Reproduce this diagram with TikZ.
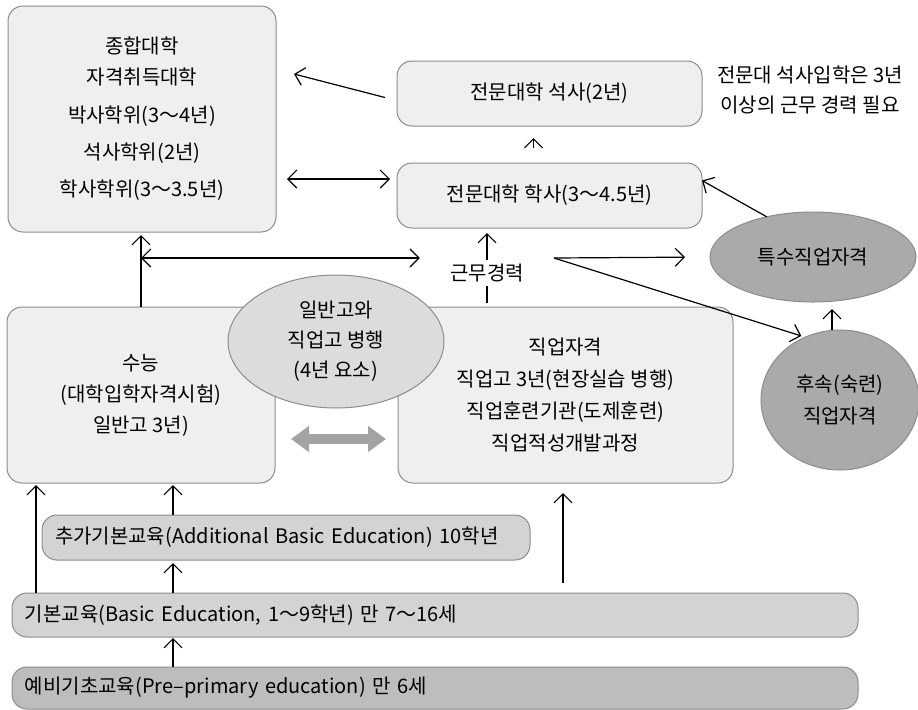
\documentclass[tikz,border=0pt]{standalone}
\usepackage{fontspec}
\setmainfont{Noto Sans CJK KR}
\usetikzlibrary{arrows.meta,shapes.geometric}
\definecolor{boxfill}{HTML}{EFEFEF}
\definecolor{boxline}{HTML}{8C8C8C}
\definecolor{ovalfill}{HTML}{DCDCDC}
\definecolor{barfill}{HTML}{D3D3D3}
\definecolor{basefill}{HTML}{BCBDBC}
\definecolor{qualfill}{HTML}{AAAAAA}
\definecolor{pathgray}{HTML}{A3A3A3}

\begin{document}
\begin{tikzpicture}[x=0.5pt,y=-0.5pt,
    every node/.style={font=\fontsize{10}{16}\selectfont},
    >={Straight Barb[length=4.5pt,width=9pt]},
    link/.style={line width=0.6pt},
    stage/.style={draw=boxline,fill=boxfill,line width=0.5pt,rounded corners=7.5pt,
      inner sep=0pt,outer sep=0pt,align=center},
    level/.style={draw=boxline,line width=0.5pt,rounded corners=7.5pt,
      inner xsep=6.5pt,inner ysep=0pt,outer sep=0pt,align=left},
    oval/.style={draw=boxline,ellipse,line width=0.5pt,inner sep=0pt,outer sep=0pt,align=center},
    wide/.style={{Triangle[length=9pt,width=12.5pt]}-{Triangle[length=9pt,width=12.5pt]},
      line width=5pt,draw=pathgray},
  ]
    \useasboundingbox (0,0) rectangle (918,709);

    \path
    (142,119) node[stage,minimum width=134pt,minimum height=113pt] (univ)
      {종합대학\\[-0.5pt]자격취득대학\\[3pt]박사학위(3～4년)\\[2.5pt]석사학위(2년)\\[2.5pt]학사학위(3～3.5년)}
    (549.5,93.5) node[stage,minimum width=152.5pt,minimum height=32.5pt] (profMaster) {전문대학 석사(2년)}
    (549.5,195.5) node[stage,minimum width=152.5pt,minimum height=32.5pt] (profBach) {전문대학 학사(3～4.5년)}
    (810,90) node[align=center,font=\fontsize{10}{15}\selectfont] (note)
      {전문대 석사입학은 3년\\이상의 근무 경력 필요}
    ;

    \path
    (141,395) node[stage,minimum width=134pt,minimum height=88pt,font=\fontsize{10}{15.5}\selectfont] (sat)
      {수능\\(대학입학자격시험)\\일반고 3년)}
    (565.5,395) node[stage,minimum width=167.5pt,minimum height=88pt] (voc)
      {직업자격\\직업고 3년(현장실습 병행)\\직업훈련기관(도제훈련)\\직업적성개발과정}
    (336,341.5) node[oval,fill=ovalfill,minimum width=108pt,minimum height=66.5pt,
      font=\fontsize{10}{15}\selectfont] (both) {일반고와\\직업고 병행\\(4년 요소)}
    (813,257) node[oval,fill=qualfill,minimum width=103pt,minimum height=45pt] (special) {특수직업자격}
    (840,400) node[oval,fill=qualfill,minimum width=79pt,minimum height=70pt] (skilled) {후속(숙련)\\직업자격}
    (487,273) node[inner sep=2pt] (work) {근무경력}
    ;

    \path
    (286,537.5) node[level,fill=barfill,text width=231pt,minimum height=22.5pt] (addBasic)
      {추가기본교육(Additional Basic Education) 10학년}
    (435,615) node[level,fill=barfill,text width=410pt,minimum height=22pt] (basic)
      {기본교육(Basic Education, 1～9학년) 만 7～16세}
    (435,688) node[level,fill=basefill,text width=410pt,minimum height=21pt] (prePrimary)
      {예비기초교육(Pre–primary education) 만 6세}
    ;

    \coordinate (fork) at (554,258);
    \coordinate (colA) at (173,0);
    \coordinate (colB) at (563,0);

    \draw[link,->] ([shift={(-12,4)}]profMaster.west) -- ([shift={(18,-45)}]univ.east);
    \draw[link,<->] ([shift={(11,60)}]univ.east) -- ([shift={(-7,-16.5)}]profBach.west);
    \draw[link,->] ([shift={(-16,-15)}]profBach.north) -- ([shift={(-16,12)}]profMaster.south);
    \draw[link,->,shorten >=1.5pt] (sat.north) -- (sat.north |- univ.south);
    \draw[link,<->,shorten >=13pt] (sat.north |- fork) -- (work.west |- fork);
    \draw[link,->,shorten >=2.5pt] (work.north) -- (work.north |- profBach.south);
    \draw[link,shorten >=2pt] (work.south) -- (work.south |- voc.north);
    \draw[link,->,shorten >=12.5pt] (fork) -- (special.west);
    \draw[link,->,shorten >=2pt] (fork) -- (skilled.119);
    \draw[link,->,shorten >=3.5pt] ([xshift=-4pt]skilled.north) -- ([xshift=-4pt]skilled.north |- special.south);
    \draw[link,->] (special.139) -- ([yshift=7.5pt]profBach.east);

    \draw[link,->,shorten >=1pt] ([xshift=12pt]basic.north west) -- ([xshift=12pt]basic.north west |- sat.south);
    \draw[link,->,shorten >=1pt] (colA |- addBasic.north) -- (colA |- sat.south);
    \draw[link,->,shorten >=1.5pt] (colA |- basic.north) -- (colA |- addBasic.south);
    \draw[link,->,shorten >=0.5pt] (colA |- prePrimary.north) -- (colA |- basic.south);
    \draw[link,->,shorten <=5pt,shorten >=5pt] (colB |- basic.north) -- (colB |- voc.south);

    \draw[wide] ([shift={(16,44)}]sat.east) -- ([shift={(-12,44)}]voc.west);
  \end{tikzpicture}
\end{document}
